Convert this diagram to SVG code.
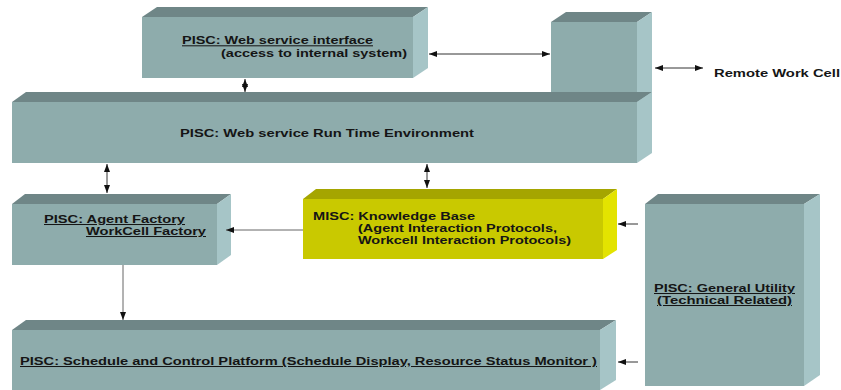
<svg xmlns="http://www.w3.org/2000/svg" width="841" height="390" viewBox="0 0 841 390">
<style>
.front{fill:#8eacac}
.top{fill:#6f8687}
.side{fill:#a6c5c7}
.yfront{fill:#c9c900}
.ytop{fill:#a5a500}
.yside{fill:#e3e300}
text{font-family:"Liberation Sans",Arial,sans-serif;font-size:10.2px;font-weight:700;fill:#151515}
.u{text-decoration:underline}
.conn line{stroke:#333;stroke-width:1}
</style>
<defs>
<marker id="ah" viewBox="0 0 8 6" markerWidth="8" markerHeight="6" refX="8" refY="3" orient="auto-start-reverse" markerUnits="userSpaceOnUse">
<path d="M0,0 L8,3 L0,6 z" fill="#111"/>
</marker>
</defs>
<rect width="841" height="390" fill="#ffffff"/>

<g id="remote">
<polygon class="top" points="551,22 566,12 652,12 637,22"/>
<rect class="front" x="551" y="22" width="86" height="81"/>
<polygon class="side" points="637,22 652,12 652,93 637,103"/>
</g>

<g id="interface">
<polygon class="top" points="142,17 157,7 428,7 413,17"/>
<rect class="front" x="142" y="17" width="271" height="61"/>
<polygon class="side" points="413,17 428,7 428,68 413,78"/>
<text class="u" x="182" y="44.3" textLength="191" lengthAdjust="spacingAndGlyphs">PISC: Web service interface</text>
<text x="221" y="56.7" textLength="186" lengthAdjust="spacingAndGlyphs">(access to internal system)</text>
</g>

<g id="rte">
<polygon class="top" points="12,102 26,92 652,92 637,102"/>
<rect class="front" x="12" y="102" width="625" height="61"/>
<polygon class="side" points="637,102 652,92 652,153 637,163"/>
<text x="180" y="137" textLength="294" lengthAdjust="spacingAndGlyphs">PISC: Web service Run Time Environment</text>
</g>

<g id="agent">
<polygon class="top" points="12,204 25,194 231,194 217,204"/>
<rect class="front" x="12" y="204" width="205" height="61"/>
<polygon class="side" points="217,204 231,194 231,255 217,265"/>
<text class="u" x="44" y="223" textLength="141" lengthAdjust="spacingAndGlyphs">PISC: Agent Factory</text>
<text class="u" x="86" y="235" textLength="120" lengthAdjust="spacingAndGlyphs">WorkCell Factory</text>
</g>

<g id="kb">
<polygon class="ytop" points="303,199 316,189 617,189 603,199"/>
<rect class="yfront" x="303" y="199" width="300" height="60"/>
<polygon class="yside" points="603,199 617,189 617,250 603,259"/>
<text x="313" y="220" textLength="162" lengthAdjust="spacingAndGlyphs">MISC: Knowledge Base</text>
<text x="358" y="232" textLength="199" lengthAdjust="spacingAndGlyphs">(Agent Interaction Protocols,</text>
<text x="358" y="244" textLength="213" lengthAdjust="spacingAndGlyphs">Workcell Interaction Protocols)</text>
</g>

<g id="utility">
<polygon class="top" points="645,204 658,194 820,194 804,204"/>
<rect class="front" x="645" y="204" width="159" height="182"/>
<polygon class="side" points="804,204 820,194 820,375 804,386"/>
<text class="u" x="654" y="292" textLength="141" lengthAdjust="spacingAndGlyphs">PISC: General Utility</text>
<text class="u" x="657" y="304" textLength="135" lengthAdjust="spacingAndGlyphs">(Technical Related)</text>
</g>

<g id="schedule">
<polygon class="top" points="12,330 26,320 616,320 600,330"/>
<rect class="front" x="12" y="330" width="588" height="60"/>
<polygon class="side" points="600,330 616,320 616,380 600,390"/>
<text class="u" x="20" y="365" textLength="577" lengthAdjust="spacingAndGlyphs">PISC: Schedule and Control Platform (Schedule Display, Resource Status Monitor )</text>
</g>

<g id="remote-label">
<text x="714" y="77" textLength="126" lengthAdjust="spacingAndGlyphs">Remote Work Cell</text>
</g>

<g class="conn" id="connectors">
<line x1="429" y1="54" x2="550" y2="54" marker-start="url(#ah)" marker-end="url(#ah)"/>
<line x1="655" y1="68" x2="703" y2="68" marker-start="url(#ah)" marker-end="url(#ah)"/>
<line x1="245" y1="79" x2="245" y2="92" marker-start="url(#ah)" marker-end="url(#ah)"/>
<line x1="107" y1="164" x2="107" y2="193" marker-start="url(#ah)" marker-end="url(#ah)"/>
<line x1="427" y1="164" x2="427" y2="188" marker-start="url(#ah)" marker-end="url(#ah)"/>
<line x1="303" y1="230" x2="226" y2="230" marker-end="url(#ah)" style="stroke:#666"/>
<line x1="123" y1="265" x2="123" y2="320" marker-end="url(#ah)" style="stroke:#666"/>
<line x1="638" y1="224" x2="618" y2="224" marker-end="url(#ah)"/>
<line x1="638" y1="362" x2="618" y2="362" marker-end="url(#ah)"/>
</g>
</svg>
